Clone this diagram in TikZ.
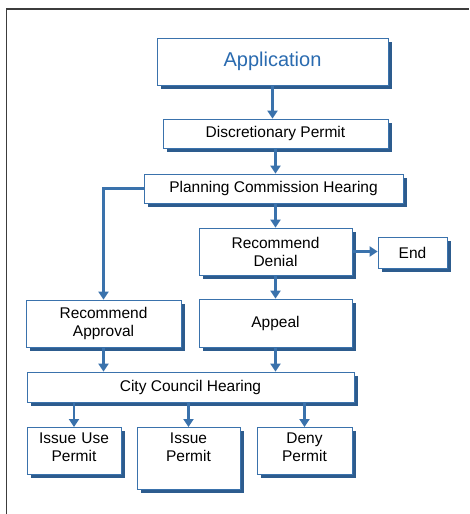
\documentclass[tikz,border=0pt]{standalone}
\usepackage{fontspec}
\setmainfont{Liberation Sans}
\usetikzlibrary{arrows.meta,shadows}
\definecolor{pblue}{HTML}{3A72AC}
\definecolor{pshade}{HTML}{2D5C8E}
\definecolor{ptext}{HTML}{2A6BB0}
\definecolor{pframe}{HTML}{3C3C3C}
\tikzset{
  box/.style={draw=pblue,fill=white,line width=0.8pt,align=center,font=\fontsize{15.5}{18}\selectfont,inner sep=2pt,
    drop shadow={shadow xshift=4pt,shadow yshift=-4pt,fill=pshade,opacity=1}},
  topbox/.style={box,anchor=north,inner ysep=0pt,text height=15.6pt},
  arr/.style={-{Triangle[width=10pt,length=8pt]},line width=2.6pt,draw=pblue},
  frame/.style={draw=pframe,line width=1.8pt},
}
\begin{document}
\begin{tikzpicture}[x=1pt,y=-1pt]
  \useasboundingbox (0,0) rectangle (469,514);
  % rahmen
  \draw[frame] (6.5,514) -- (6.5,9) -- (469,9);
  % obere kette
  \node[box,minimum width=231pt,minimum height=47pt,font=\fontsize{20}{22}\selectfont,text=ptext] (app) at (272.5,61.5) {Application};
  \node[box,minimum width=225pt,minimum height=29pt] (disc) at (275.5,133.5) {Discretionary Permit};
  \node[box,minimum width=259pt,minimum height=29pt] (pch) at (273.5,188.5) {Planning Commission Hearing};
  % mitte
  \node[box,minimum width=153pt,minimum height=47pt] (rd) at (275.5,251.5) {Recommend\\Denial};
  \node[box,minimum width=69pt,minimum height=31pt] (end) at (412.5,252.5) {End};
  \node[box,minimum width=153pt,minimum height=48pt] (appeal) at (275.5,323) {Appeal};
  \node[box,minimum width=155pt,minimum height=47pt] (ra) at (103.5,323.5) {Recommend\\Approval};
  \node[box,minimum width=327pt,minimum height=30pt] (cch) at (190.5,387) {City Council Hearing};
  % ergebnisse
  \node[topbox,text width=90pt,text depth=31.4pt] (iup) at (74,427) {Issue Use\\Permit};
  \node[topbox,text width=99pt,text depth=46.4pt] (ip) at (188.5,427) {Issue\\Permit};
  \node[topbox,text width=91pt,text depth=31.4pt] (dp) at (304.5,427) {Deny\\Permit};
  % pfeile
  \draw[arr] (app.south) -- (app.south |- disc.north);
  \draw[arr] (disc.south) -- (disc.south |- pch.north);
  \draw[arr] (pch.south -| rd) -- (rd.north);
  \draw[arr] (pch.west) -| (ra.north);
  \draw[arr] (rd.east) -- (rd.east -| end.west);
  \draw[arr] (rd.south) -- (appeal.north);
  \draw[arr] (ra.south) -- (ra.south |- cch.north);
  \draw[arr] (appeal.south) -- (appeal.south |- cch.north);
  \draw[arr] (cch.south -| iup) -- (iup.north);
  \draw[arr] (cch.south -| ip) -- (ip.north);
  \draw[arr] (cch.south -| dp) -- (dp.north);
\end{tikzpicture}
\end{document}
